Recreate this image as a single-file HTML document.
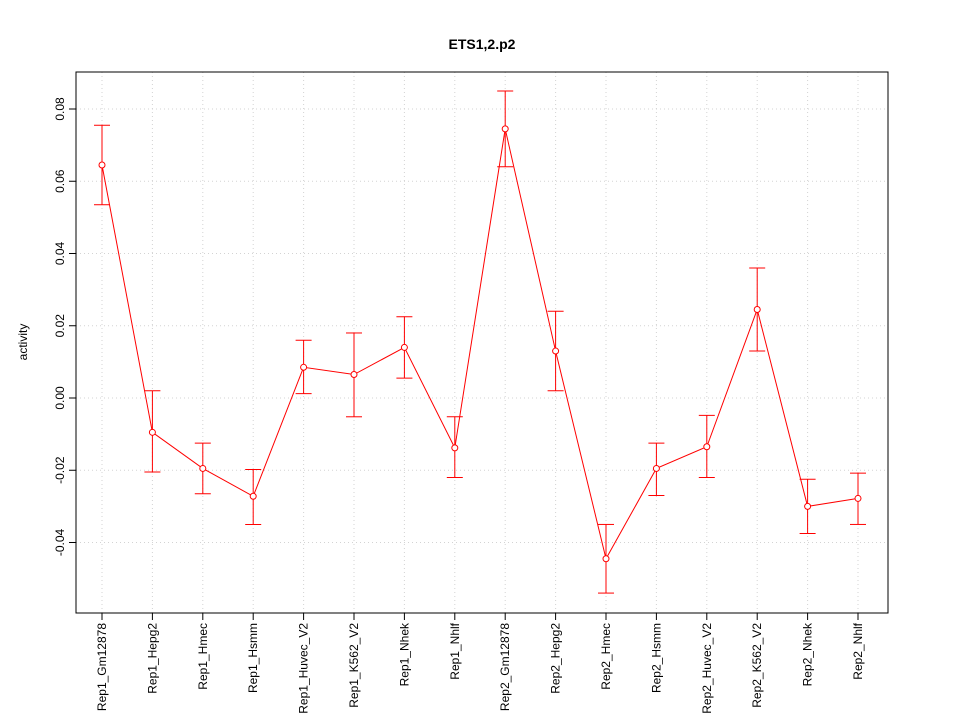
<!DOCTYPE html>
<html><head><meta charset="utf-8"><style>
body{margin:0;background:#fff;}
svg text{font-family:"Liberation Sans",sans-serif;}
</style></head><body>
<svg id="chart" width="960" height="720" xmlns="http://www.w3.org/2000/svg"></svg>
<script>
const categories=["Rep1_Gm12878","Rep1_Hepg2","Rep1_Hmec","Rep1_Hsmm","Rep1_Huvec_V2","Rep1_K562_V2","Rep1_Nhek","Rep1_Nhlf","Rep2_Gm12878","Rep2_Hepg2","Rep2_Hmec","Rep2_Hsmm","Rep2_Huvec_V2","Rep2_K562_V2","Rep2_Nhek","Rep2_Nhlf"];
const values=[0.0645,-0.0095,-0.0195,-0.0272,0.0085,0.0065,0.014,-0.0138,0.0745,0.013,-0.0445,-0.0195,-0.0135,0.0245,-0.030,-0.0278];
const lower=[0.0535,-0.0205,-0.0265,-0.035,0.0012,-0.0052,0.0055,-0.022,0.064,0.002,-0.054,-0.027,-0.022,0.013,-0.0375,-0.035];
const upper=[0.0755,0.002,-0.0125,-0.0198,0.016,0.018,0.0225,-0.0052,0.085,0.024,-0.035,-0.0125,-0.0048,0.036,-0.0225,-0.0208];
const yTicks=[-0.04,-0.02,0,0.02,0.04,0.06,0.08];
const yTickLabels=["-0.04","-0.02","0.00","0.02","0.04","0.06","0.08"];
const NS="http://www.w3.org/2000/svg";
const svg=document.getElementById('chart');
const L=76,R=888,T=72,B=613;
const x=i=>102+i*(858-102)/(categories.length-1);
const y=v=>398-v*3612.5;
function mk(tag,attrs,parent){const e=document.createElementNS(NS,tag);for(const k in attrs)e.setAttribute(k,attrs[k]);(parent||svg).appendChild(e);return e;}
const grid=mk('g',{stroke:'#d3d3d3','stroke-dasharray':'1,3','stroke-width':1});


categories.forEach((c,i)=>mk('line',{x1:x(i),x2:x(i),y1:T,y2:B},grid));
yTicks.forEach(v=>mk('line',{x1:L,x2:R,y1:y(v),y2:y(v)},grid));
const frame=mk('rect',{x:L,y:T,width:R-L,height:B-T,fill:'none',stroke:'#000'});


const yax=mk('g',{});


mk('line',{x1:L,x2:L,y1:y(yTicks[0]),y2:y(yTicks[yTicks.length-1]),stroke:'#000'},yax);
yTicks.forEach((v,i)=>{mk('line',{x1:L,x2:L-7,y1:y(v),y2:y(v),stroke:'#000'},yax);
 const t=mk('text',{x:0,y:0,'font-size':12,'text-anchor':'middle',transform:`translate(${L-12},${y(v)}) rotate(-90)`},yax);t.textContent=yTickLabels[i];});
const xax=mk('g',{});


mk('line',{x1:x(0),x2:x(categories.length-1),y1:B,y2:B,stroke:'#000'},xax);
categories.forEach((c,i)=>{mk('line',{x1:x(i),x2:x(i),y1:B,y2:B+7,stroke:'#000'},xax);
 const t=mk('text',{x:0,y:0,'font-size':12,'text-anchor':'end',transform:`translate(${x(i)+4},${B+10}) rotate(-90)`},xax);t.textContent=c;});
const yl=mk('text',{x:0,y:0,'font-size':12,'text-anchor':'middle',transform:`translate(27,342) rotate(-90)`});
yl.textContent='activity';


const title=mk('text',{x:482,y:49,'font-size':14,'font-weight':'bold','text-anchor':'middle'});
title.textContent='ETS1,2.p2';


const series=mk('g',{});


mk('polyline',{points:values.map((v,i)=>x(i)+','+y(v)).join(' '),fill:'none',stroke:'#ff0000'},series);
values.forEach((v,i)=>{
 const g=mk('g',{},series);
 
 
 mk('line',{x1:x(i),x2:x(i),y1:y(lower[i]),y2:y(upper[i]),stroke:'#ff0000'},g);
 mk('line',{x1:x(i)-8,x2:x(i)+8,y1:y(lower[i]),y2:y(lower[i]),stroke:'#ff0000'},g);
 mk('line',{x1:x(i)-8,x2:x(i)+8,y1:y(upper[i]),y2:y(upper[i]),stroke:'#ff0000'},g);
 const p=mk('circle',{cx:x(i),cy:y(v),r:3,fill:'#fff',stroke:'#ff0000'},series);
 
 
});
</script>
</body></html>
